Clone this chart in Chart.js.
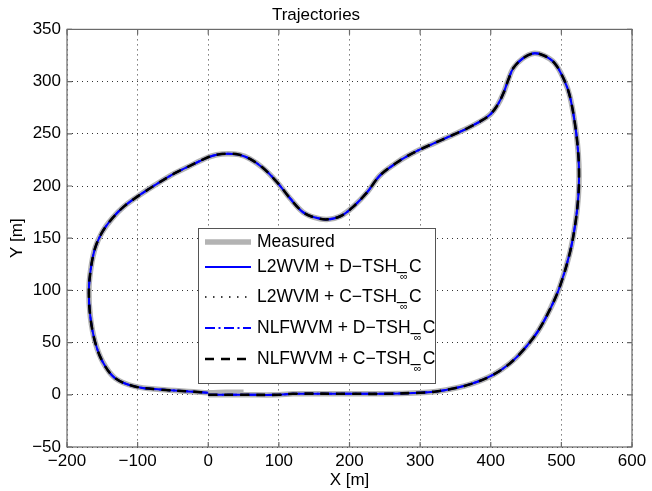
<!DOCTYPE html>
<html lang="en">
<head>
    <meta charset="UTF-8">
    <title>Trajectories</title>
    <script src="https://cdnjs.cloudflare.com/ajax/libs/Chart.js/4.4.1/chart.umd.min.js"></script>
    <style>
        body {
            margin: 0;
            background: white;
        }
        #plot {
            display: block;
        }
    </style>
</head>
<body>

    <canvas id="plot" width="652" height="491"></canvas>

    <script>
        // Estimated path (X, Y in metres)
        const pathX = [0, 50, 100, 120, 200, 250, 300, 320, 347, 375, 403, 427, 445, 466, 484, 498, 512, 520, 524, 525,
            524, 520, 512, 503, 490, 475, 460, 445, 432, 425, 418, 410, 400, 388, 366, 340, 320, 300, 280, 266,
            243, 225, 205, 187, 168, 150, 134, 116, 97, 78, 59, 44, 28, 12, -2, -30, -48, -75,
            -100, -120, -136, -150, -160, -166, -169, -167, -160, -149, -132, -104, -68, -21, 0];
        const pathY = [0, 0, 0, 1, 1, 1, 2, 3, 6, 11, 19, 30, 42, 60, 82, 104, 136, 165, 190, 210,
            230, 256, 286, 303, 318, 325, 327, 322, 313, 302, 289, 278, 269, 263, 255, 247, 241, 235, 228, 222,
            210, 194, 180, 171, 168, 170, 175, 188, 204, 217, 226, 230, 231, 230, 227, 218, 212, 201,
            190, 180, 169, 156, 141, 122, 100, 75, 50, 31, 16, 8, 5, 3, 2];
        // measured track runs a little past the start point
        const measTailX = [25, 50];
        const measTailY = [2.5, 2.5];

        const seriesLabels = ["Measured", "L2WVM + D\u2212TSH_\u221EC", "L2WVM + C\u2212TSH_\u221EC",
            "NLFWVM + D\u2212TSH_\u221EC", "NLFWVM + C\u2212TSH_\u221EC"];
        const xTicks = [-200, -100, 0, 100, 200, 300, 400, 500, 600];
        const yTicks = [-50, 0, 50, 100, 150, 200, 250, 300, 350];

        const FONT = "'Liberation Sans', Arial, sans-serif";

        // each dataset needs its own array, chart.js hooks into the array object
        function toPoints(xs, ys) {
            return xs.map((x, i) => ({ x: x, y: ys[i] }));
        }

        // box, inner tick marks and legend (MATLAB style)
        const matlabAxes = {
            id: "matlabAxes",
            afterDraw(chart) {
                const ctx = chart.ctx;
                const a = chart.chartArea;
                const xs = chart.scales.x, ys = chart.scales.y;
                ctx.save();
                ctx.setLineDash([]);
                ctx.strokeStyle = "#6a6a6a";
                ctx.lineWidth = 1.2;
                ctx.strokeRect(a.left, a.top, a.right - a.left, a.bottom - a.top);
                ctx.beginPath();
                xTicks.forEach(v => {
                    const p = xs.getPixelForValue(v);
                    ctx.moveTo(p, a.bottom); ctx.lineTo(p, a.bottom - 5);
                    ctx.moveTo(p, a.top); ctx.lineTo(p, a.top + 5);
                });
                yTicks.forEach(v => {
                    const p = ys.getPixelForValue(v);
                    ctx.moveTo(a.left, p); ctx.lineTo(a.left + 5, p);
                    ctx.moveTo(a.right, p); ctx.lineTo(a.right - 5, p);
                });
                ctx.stroke();

                // legend
                const box = { x: 198.5, y: 228.5, w: 237, h: 155 };
                const rows = [242, 267, 297, 328, 359];
                ctx.fillStyle = "white";
                ctx.fillRect(box.x, box.y, box.w, box.h);
                ctx.strokeStyle = "#555";
                ctx.lineWidth = 1;
                ctx.strokeRect(box.x, box.y, box.w, box.h);

                chart.data.datasets.forEach((ds, i) => {
                    const y = rows[i];
                    ctx.beginPath();
                    ctx.setLineDash(ds.borderDash || []);
                    ctx.strokeStyle = ds.borderColor;
                    ctx.lineWidth = ds.borderWidth;
                    ctx.moveTo(205, y);
                    ctx.lineTo(251, y);
                    ctx.stroke();
                    ctx.setLineDash([]);

                    ctx.fillStyle = "#000";
                    ctx.textBaseline = "middle";
                    ctx.textAlign = "left";
                    ctx.font = "17.5px " + FONT;
                    const parts = ds.label.split("_\u221E");
                    let x = 257;
                    ctx.fillText(parts[0], x, y);
                    if (parts.length === 2) {
                        x += ctx.measureText(parts[0]).width;
                        const gap = 12;
                        ctx.fillText("_", x, y - 3);
                        ctx.fillText(parts[1], x + gap, y);
                        ctx.font = "11px " + FONT;
                        const iw = ctx.measureText("\u221E").width;
                        ctx.fillText("\u221E", x + gap / 2 - iw / 2 + 1, y + 10);
                    }
                });
                ctx.restore();
            }
        };

        const tickFmt = v => String(v).replace("-", "\u2212");

        new Chart(document.getElementById("plot"), {
            type: "scatter",
            data: {
                // order: lower number is drawn on top
                datasets: [
                    {
                        label: seriesLabels[0],
                        data: toPoints(pathX.concat(measTailX), pathY.concat(measTailY)),
                        borderColor: "#b3b3b3",
                        borderWidth: 5.5,
                        borderDash: [],
                        order: 5
                    },
                    {
                        label: seriesLabels[1],
                        data: toPoints(pathX, pathY),
                        borderColor: "#0000ff",
                        borderWidth: 2,
                        borderDash: [],
                        order: 4
                    },
                    {
                        label: seriesLabels[2],
                        data: toPoints(pathX, pathY),
                        borderColor: "#000000",
                        borderWidth: 1.3,
                        borderDash: [1.5, 6.5],
                        order: 3
                    },
                    {
                        label: seriesLabels[3],
                        data: toPoints(pathX, pathY),
                        borderColor: "#0000ff",
                        borderWidth: 2,
                        borderDash: [10, 3.5, 2, 3.5],
                        order: 2
                    },
                    {
                        label: seriesLabels[4],
                        data: toPoints(pathX, pathY),
                        borderColor: "#000000",
                        borderWidth: 2.6,
                        borderDash: [9, 7],
                        order: 1
                    }
                ].map(ds => Object.assign(ds, {
                    showLine: true,
                    pointRadius: 0,
                    fill: false,
                    tension: 0.35
                }))
            },
            options: {
                responsive: false,
                animation: false,
                devicePixelRatio: 1,
                layout: { padding: { left: 0, right: 20, top: 0, bottom: 0 } },
                plugins: {
                    legend: { display: false },
                    tooltip: { enabled: false },
                    title: {
                        display: true,
                        text: "Trajectories",
                        color: "#000",
                        font: { family: FONT, size: 17, weight: "normal" },
                        padding: { top: 5, bottom: 4 }
                    }
                },
                scales: {
                    x: {
                        type: "linear",
                        min: -200,
                        max: 600,
                        afterBuildTicks: s => { s.ticks = xTicks.map(v => ({ value: v })); },
                        afterFit: s => { s.height = 44; },
                        ticks: {
                            color: "#000",
                            font: { family: FONT, size: 17 },
                            padding: 4,
                            maxRotation: 0,
                            callback: tickFmt
                        },
                        grid: { color: "rgba(0,0,0,0.8)", lineWidth: 1, drawTicks: false },
                        border: { display: false, dash: [1, 4] },
                        title: {
                            display: true,
                            text: "X [m]",
                            color: "#000",
                            font: { family: FONT, size: 17 },
                            padding: { top: 0, bottom: 0 }
                        }
                    },
                    y: {
                        type: "linear",
                        min: -50,
                        max: 350,
                        afterBuildTicks: s => { s.ticks = yTicks.map(v => ({ value: v })); },
                        afterFit: s => { s.width = 67; },
                        ticks: {
                            color: "#000",
                            font: { family: FONT, size: 17 },
                            padding: 6,
                            callback: tickFmt
                        },
                        grid: { color: "rgba(0,0,0,0.8)", lineWidth: 1, drawTicks: false },
                        border: { display: false, dash: [1, 4] },
                        title: {
                            display: true,
                            text: "Y [m]",
                            color: "#000",
                            font: { family: FONT, size: 17 },
                            padding: { top: 7, bottom: 0 }
                        }
                    }
                }
            },
            plugins: [matlabAxes]
        });
    </script>

</body>
</html>
